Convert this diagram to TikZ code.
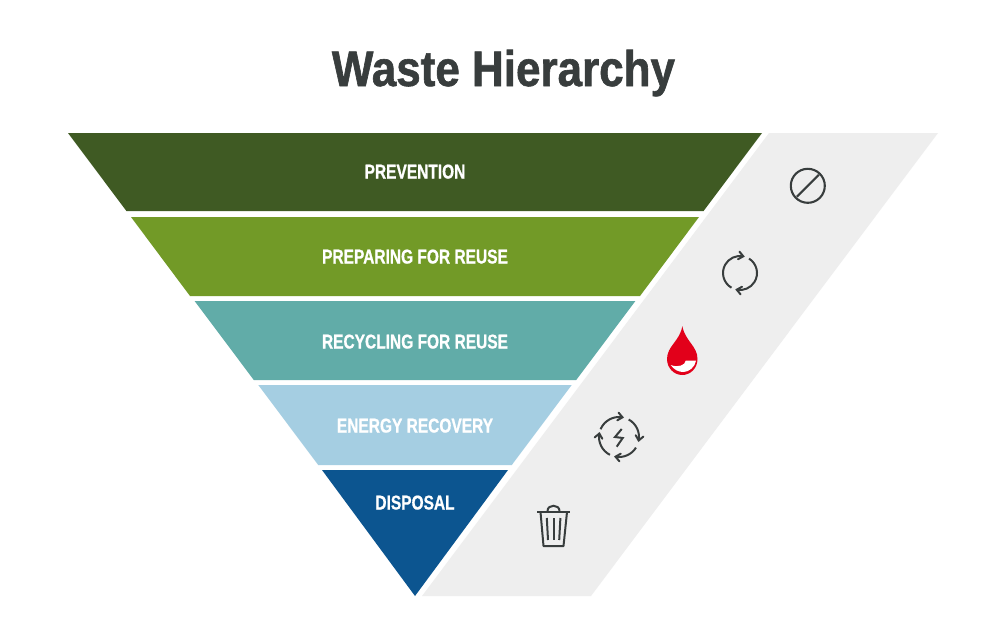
\documentclass[tikz,border=0pt]{standalone}
\usepackage{fontspec}
\setmainfont{Liberation Sans}
\newfontfamily\titlefont[FakeStretch=0.88,FakeBold=1.2]{Liberation Sans Bold}
\newfontfamily\labelfont[FakeStretch=0.775,FakeBold=0.8]{Liberation Sans Bold}
\definecolor{cA}{HTML}{3F5A23}
\definecolor{cB}{HTML}{729A27}
\definecolor{cC}{HTML}{61ACA8}
\definecolor{cD}{HTML}{A5CEE2}
\definecolor{cE}{HTML}{0C5590}
\definecolor{cGray}{HTML}{EEEEEE}
\definecolor{cDark}{HTML}{383D3D}
\definecolor{cRed}{HTML}{E2001A}
\tikzset{
  band/.style={fill=#1,draw=none},
  bandlabel/.style={text=white,font=\labelfont\fontsize{20}{22}\selectfont,anchor=base,inner sep=0pt},
  icon/.style={draw=cDark,line width=2pt,fill=none}
}
% clockwise arc with a chevron head: start angle, end angle, radius
\newcommand{\cwarc}[3]{%
  \draw[icon] (#1:#3) arc (#1:#2:#3);
  \draw[icon,line join=miter,line cap=round] (#2:#3) ++(#2+50:6) -- (#2:#3) -- ++(#2+130:6);
}
\begin{document}
\begin{tikzpicture}[x=1pt,y=-1pt]
\useasboundingbox (0,0) rectangle (1008,621);
\fill[white] (0,0) rectangle (1008,621);
\node[text=cDark,font=\titlefont\fontsize{50}{52}\selectfont,anchor=base,inner sep=0pt] (title) at (503.5,86) {Waste Hierarchy};
\fill[cGray] (769,133) -- (938,133) -- (591,596) -- (422,596) -- cycle;
\fill[band=cA] (68,133) -- (762,133) -- (703.6,211) -- (126.4,211) -- cycle;
\fill[band=cB] (131,217) -- (699,217) -- (640,296) -- (190,296) -- cycle;
\fill[band=cC] (194.6,301) -- (635.4,301) -- (576.2,380) -- (253.8,380) -- cycle;
\fill[band=cD] (258.3,385) -- (571.7,385) -- (511.8,465) -- (318.2,465) -- cycle;
\fill[band=cE] (322,470) -- (508,470) -- (415,596) -- cycle;
\node[bandlabel] (l1) at (415,178.5) {PREVENTION};
\node[bandlabel] (l2) at (415,263.5) {PREPARING FOR REUSE};
\node[bandlabel] (l3) at (415,348.5) {RECYCLING FOR REUSE};
\node[bandlabel] (l4) at (415,432.5) {ENERGY RECOVERY};
\node[bandlabel] (l5) at (415,509.5) {DISPOSAL};
% prohibited
\begin{scope}[shift={(807.8,185.8)},yscale=-1]
\draw[icon,line width=2.1pt] (0,0) circle (17);
\draw[icon,line width=2.1pt] (-11,-11) -- (11,11);
\end{scope}
% refresh
\begin{scope}[shift={(740,273)},yscale=-1]
\cwarc{240}{79}{17}
\cwarc{58}{-101}{17}
\end{scope}
% drop
\fill[cRed] (682.3,326) .. controls (680,341) and (667,346) .. (667,359)
  .. controls (667,368) and (674,375) .. (682.3,375)
  .. controls (690.6,375) and (697.5,368) .. (697.5,359)
  .. controls (697.5,346) and (685,341) .. (682.3,326) -- cycle;
\fill[white] (670.7,365) .. controls (674,370) and (679,372) .. (683.3,372)
  .. controls (689,372) and (695,367) .. (696,360.7)
  -- (685.7,360.7) .. controls (685.5,365) and (678,368) .. (670.7,365) -- cycle;
% energy cycle
\begin{scope}[shift={(619,437)},yscale=-1]
\cwarc{157}{80}{20}
\cwarc{61}{-10}{20}
\cwarc{-32}{-100}{20}
\cwarc{-117}{-190}{20}
\draw[icon,line join=miter] (2.7,8) -- (-4,0) -- (3.7,-1) -- (-2.3,-9.7);
\end{scope}
% bin
\draw[icon] (537,512) -- (570,512);
\draw[icon,line join=round] (540.5,512) -- (543.5,546) -- (563.5,546) -- (567,512);
\draw[icon] (547.5,511) .. controls (547.5,504) and (559.5,504) .. (559.5,511);
\draw[icon] (546.8,518) -- (548,540);
\draw[icon] (553.6,518) -- (553.6,540);
\draw[icon] (560.4,518) -- (559.2,540);
\end{tikzpicture}
\end{document}
